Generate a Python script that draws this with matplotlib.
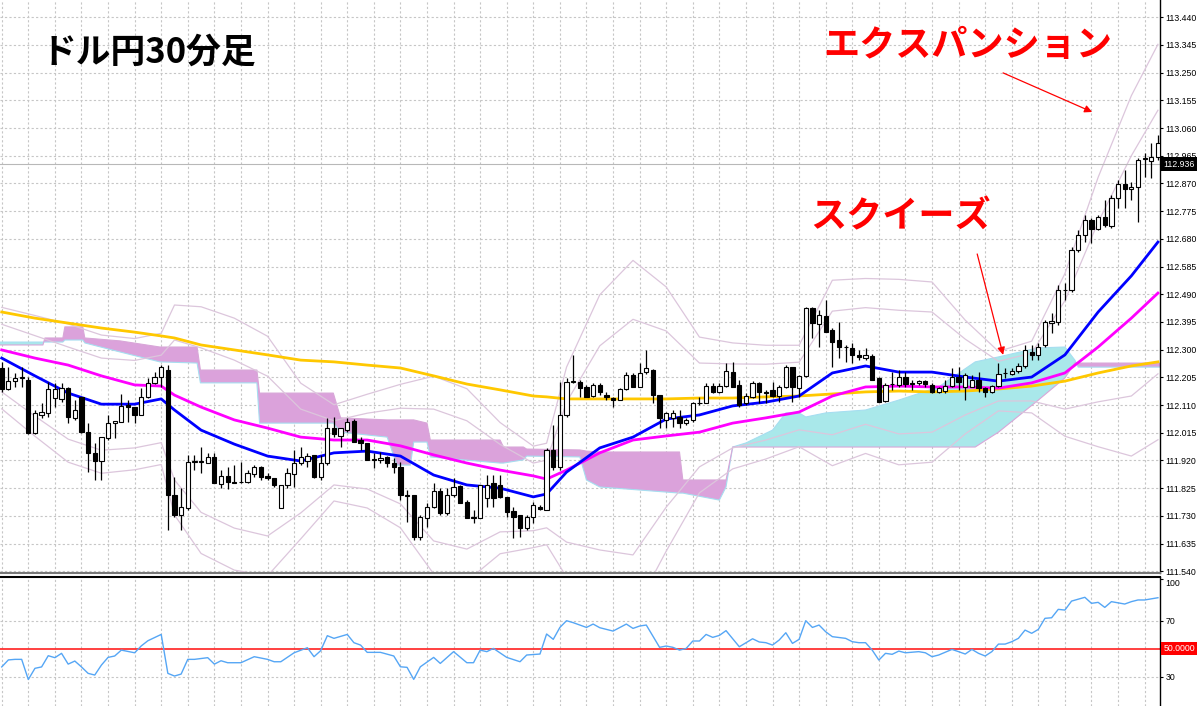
import matplotlib
matplotlib.use('Agg')
import matplotlib.pyplot as plt
import numpy as np
from matplotlib.transforms import blended_transform_factory

plt.rcParams['font.family'] = ['Noto Sans CJK JP', 'DejaVu Sans']

# ---- candles (USD/JPY 30 min) ----
opens = [
    112.237, 112.165, 112.192, 112.203, 112.196, 112.014, 112.076, 112.083, 112.134, 112.131,
    112.168, 112.066, 112.138, 112.017, 111.946, 111.918, 111.997, 112.048, 112.052, 112.110,
    112.103, 112.076, 112.138, 112.186, 112.206, 112.230, 111.801, 111.733, 111.757, 111.915,
    111.915, 111.911, 111.932, 111.839, 111.867, 111.846, 111.847, 111.846, 111.874, 111.898,
    111.867, 111.860, 111.757, 111.836, 111.874, 111.911, 111.918, 111.939, 111.863, 111.911,
    112.031, 112.004, 112.024, 112.055, 111.990, 111.980, 111.925, 111.922, 111.932, 111.911,
    111.898, 111.801, 111.801, 111.657, 111.723, 111.760, 111.815, 111.740, 111.801, 111.832,
    111.778, 111.726, 111.723, 111.791, 111.843, 111.836, 111.795, 111.747, 111.733, 111.688,
    111.726, 111.760, 111.750, 111.956, 111.898, 112.076, 112.189, 112.189, 112.172, 112.141,
    112.179, 112.144, 112.134, 112.127, 112.165, 112.213, 112.172, 112.223, 112.230, 112.144,
    112.059, 112.066, 112.069, 112.048, 112.059, 112.118, 112.117, 112.175, 112.155, 112.175,
    112.223, 112.179, 112.117, 112.138, 112.186, 112.155, 112.162, 112.141, 112.172, 112.240,
    112.168, 112.210, 112.443, 112.388, 112.415, 112.367, 112.333, 112.310, 112.306, 112.282,
    112.271, 112.278, 112.203, 112.124, 112.183, 112.179, 112.206, 112.186, 112.186, 112.192,
    112.179, 112.155, 112.158, 112.175, 112.206, 112.172, 112.172, 112.196, 112.168, 112.155,
    112.175, 112.221, 112.216, 112.227, 112.244, 112.292, 112.282, 112.316, 112.391, 112.395,
    112.506, 112.505, 112.642, 112.693, 112.745, 112.714, 112.755, 112.724, 112.820, 112.868,
    112.851, 112.858, 112.954, 112.947, 112.961,
]
highs = [
    112.258, 112.240, 112.220, 112.240, 112.206, 112.093, 112.117, 112.189, 112.186, 112.186,
    112.172, 112.127, 112.138, 112.048, 111.980, 112.000, 112.076, 112.055, 112.148, 112.127,
    112.103, 112.168, 112.203, 112.223, 112.247, 112.247, 111.863, 111.826, 111.939, 111.939,
    111.966, 111.946, 111.946, 111.887, 111.898, 111.904, 111.915, 111.887, 111.904, 111.901,
    111.877, 111.860, 111.836, 111.894, 111.956, 111.966, 111.946, 111.939, 111.939, 112.066,
    112.069, 112.031, 112.066, 112.062, 112.000, 111.980, 111.946, 111.949, 111.935, 111.928,
    111.915, 111.819, 111.801, 111.733, 111.774, 111.843, 111.826, 111.826, 111.860, 111.836,
    111.784, 111.750, 111.836, 111.870, 111.870, 111.870, 111.795, 111.760, 111.733, 111.733,
    111.778, 111.767, 111.963, 112.041, 112.189, 112.203, 112.282, 112.196, 112.179, 112.186,
    112.186, 112.155, 112.138, 112.168, 112.223, 112.220, 112.254, 112.299, 112.234, 112.144,
    112.086, 112.093, 112.093, 112.066, 112.120, 112.138, 112.186, 112.186, 112.186, 112.254,
    112.258, 112.196, 112.151, 112.192, 112.189, 112.162, 112.189, 112.179, 112.247, 112.240,
    112.213, 112.446, 112.446, 112.436, 112.470, 112.374, 112.395, 112.316, 112.323, 112.299,
    112.306, 112.285, 112.206, 112.186, 112.223, 112.230, 112.223, 112.196, 112.196, 112.196,
    112.186, 112.172, 112.196, 112.237, 112.240, 112.220, 112.213, 112.223, 112.172, 112.179,
    112.254, 112.237, 112.237, 112.254, 112.316, 112.316, 112.323, 112.402, 112.426, 112.522,
    112.529, 112.652, 112.710, 112.762, 112.751, 112.762, 112.813, 112.830, 112.882, 112.916,
    112.875, 112.957, 112.974, 113.009, 113.036,
]
lows = [
    112.155, 112.162, 112.172, 112.172, 112.011, 112.011, 112.066, 112.069, 112.103, 112.120,
    112.048, 112.059, 112.014, 111.880, 111.853, 111.853, 111.990, 111.997, 112.052, 112.052,
    112.048, 112.076, 112.134, 112.182, 112.172, 111.681, 111.726, 111.681, 111.750, 111.887,
    111.877, 111.911, 111.843, 111.826, 111.822, 111.843, 111.843, 111.843, 111.863, 111.853,
    111.853, 111.829, 111.757, 111.826, 111.829, 111.904, 111.898, 111.860, 111.853, 111.904,
    112.000, 111.966, 112.017, 111.983, 111.956, 111.922, 111.894, 111.911, 111.898, 111.877,
    111.784, 111.709, 111.647, 111.647, 111.692, 111.757, 111.733, 111.733, 111.795, 111.774,
    111.723, 111.705, 111.723, 111.760, 111.760, 111.791, 111.726, 111.654, 111.657, 111.681,
    111.705, 111.750, 111.750, 111.887, 111.887, 112.069, 112.186, 112.138, 112.138, 112.138,
    112.144, 112.127, 112.103, 112.127, 112.162, 112.172, 112.172, 112.216, 112.117, 112.031,
    112.031, 112.035, 112.031, 112.041, 112.052, 112.110, 112.117, 112.151, 112.151, 112.172,
    112.172, 112.103, 112.110, 112.134, 112.117, 112.117, 112.138, 112.120, 112.168, 112.120,
    112.138, 112.206, 112.340, 112.309, 112.360, 112.240, 112.271, 112.258, 112.254, 112.264,
    112.264, 112.196, 112.120, 112.120, 112.162, 112.172, 112.172, 112.162, 112.179, 112.172,
    112.151, 112.151, 112.151, 112.172, 112.162, 112.127, 112.172, 112.155, 112.138, 112.151,
    112.172, 112.203, 112.213, 112.220, 112.237, 112.264, 112.264, 112.309, 112.357, 112.385,
    112.470, 112.498, 112.635, 112.669, 112.666, 112.710, 112.721, 112.717, 112.786, 112.786,
    112.813, 112.738, 112.892, 112.889, 112.950,
]
closes = [
    112.165, 112.192, 112.203, 112.206, 112.014, 112.083, 112.086, 112.165, 112.165, 112.168,
    112.069, 112.093, 112.017, 111.946, 111.918, 112.000, 112.048, 112.055, 112.107, 112.103,
    112.076, 112.138, 112.186, 112.206, 112.240, 111.801, 111.733, 111.760, 111.915, 111.918,
    111.918, 111.932, 111.843, 111.867, 111.846, 111.844, 111.845, 111.877, 111.898, 111.863,
    111.860, 111.836, 111.836, 111.877, 111.911, 111.932, 111.935, 111.863, 111.911, 112.031,
    112.011, 112.031, 112.052, 111.983, 111.980, 111.922, 111.922, 111.928, 111.911, 111.898,
    111.801, 111.799, 111.657, 111.726, 111.760, 111.815, 111.740, 111.801, 111.829, 111.774,
    111.723, 111.723, 111.836, 111.836, 111.791, 111.795, 111.743, 111.726, 111.688, 111.726,
    111.767, 111.753, 111.956, 111.898, 112.076, 112.189, 112.192, 112.168, 112.138, 112.179,
    112.155, 112.138, 112.127, 112.165, 112.213, 112.172, 112.220, 112.237, 112.144, 112.066,
    112.083, 112.083, 112.048, 112.059, 112.117, 112.116, 112.175, 112.155, 112.175, 112.227,
    112.172, 112.110, 112.141, 112.186, 112.155, 112.151, 112.141, 112.172, 112.240, 112.172,
    112.210, 112.443, 112.391, 112.419, 112.360, 112.326, 112.309, 112.308, 112.282, 112.275,
    112.282, 112.196, 112.120, 112.179, 112.181, 112.206, 112.182, 112.182, 112.192, 112.182,
    112.155, 112.168, 112.175, 112.206, 112.189, 112.213, 112.196, 112.168, 112.155, 112.175,
    112.216, 112.219, 112.227, 112.244, 112.299, 112.282, 112.309, 112.395, 112.398, 112.505,
    112.504, 112.642, 112.693, 112.745, 112.714, 112.755, 112.727, 112.820, 112.868, 112.851,
    112.858, 112.950, 112.957, 112.961, 113.009,
]

# ---- moving averages and bollinger deviation, read at these bars ----
ma_idx = [0, 5, 10, 15, 20, 24, 26, 30, 35, 40, 45, 50, 55, 60, 65, 70, 75, 80, 82, 85,
          90, 95, 100, 105, 110, 115, 120, 125, 130, 135, 140, 145, 150, 155, 160, 165, 170, 174]
ma_blue = [112.271, 112.210, 112.151, 112.113, 112.113, 112.131, 112.093, 112.024, 111.976, 111.935,
           111.918, 111.946, 111.952, 111.935, 111.870, 111.836, 111.825, 111.795, 111.805, 111.880,
           111.963, 112.000, 112.062, 112.076, 112.107, 112.120, 112.141, 112.220, 112.244, 112.223,
           112.223, 112.206, 112.192, 112.206, 112.282, 112.429, 112.553, 112.669]
ma_magenta = [112.299, 112.271, 112.247, 112.210, 112.179, 112.175, 112.144, 112.103, 112.059, 112.031,
              112.000, 111.990, 111.990, 111.970, 111.939, 111.911, 111.887, 111.867, 111.856, 111.887,
              111.946, 111.990, 112.004, 112.017, 112.048, 112.066, 112.086, 112.141, 112.172, 112.175,
              112.172, 112.172, 112.168, 112.186, 112.220, 112.309, 112.408, 112.494]
ma_yellow = [112.429, 112.408, 112.391, 112.374, 112.360, 112.347, 112.340, 112.316, 112.299, 112.282,
             112.264, 112.258, 112.247, 112.237, 112.210, 112.182, 112.162, 112.141, 112.138, 112.131,
             112.131, 112.131, 112.131, 112.134, 112.134, 112.138, 112.141, 112.148, 112.155, 112.158,
             112.155, 112.158, 112.165, 112.175, 112.192, 112.220, 112.244, 112.258]
bb_dev = [0.058, 0.069, 0.079, 0.079, 0.075, 0.075, 0.120, 0.141, 0.144, 0.137,
          0.089, 0.055, 0.065, 0.082, 0.113, 0.110, 0.075, 0.058, 0.058, 0.120,
          0.175, 0.202, 0.151, 0.089, 0.072, 0.065, 0.058, 0.106, 0.100, 0.106,
          0.103, 0.065, 0.034, 0.041, 0.093, 0.154, 0.206, 0.226]

# ---- ichimoku cloud ----
cloud_idx = [-0.3, 6.2, 6.5, 9.2, 9.5, 12.2, 12.5, 17.8, 23.8, 29.4, 29.9, 38.4, 38.8, 49.9, 51, 58,
             59.5, 61.5, 62, 64, 64.5, 75, 75.5, 78.5, 79, 87, 88, 90, 102, 102.5, 108, 109, 110,
             112, 116, 118, 120, 121, 124, 130, 135, 141, 146.5, 150, 156, 160, 161.5, 162, 174.4]
span_a = [112.326, 112.326, 112.326, 112.326, 112.333, 112.333, 112.323, 112.292, 112.258, 112.254,
          112.186, 112.186, 112.048, 112.048, 112.017, 112.000, 111.904, 111.904, 111.983, 111.983,
          111.932, 111.911, 111.911, 111.922, 111.935, 111.932, 111.853, 111.829, 111.808, 111.808,
          111.784, 111.829, 111.966, 111.980, 112.024, 112.083, 112.083, 112.069, 112.083, 112.093,
          112.127, 112.172, 112.258, 112.275, 112.306, 112.309, 112.264, 112.240, 112.240]
span_b = [112.316, 112.316, 112.340, 112.340, 112.378, 112.378, 112.340, 112.330, 112.309, 112.309,
          112.230, 112.230, 112.151, 112.151, 112.066, 112.059, 112.059, 112.059, 112.059, 112.048,
          111.990, 111.990, 111.966, 111.966, 111.959, 111.956, 111.952, 111.949, 111.949, 111.853,
          111.853, 111.853, 111.966, 111.966, 111.966, 111.966, 111.966, 111.966, 111.966, 111.966,
          111.966, 111.966, 111.966, 112.017, 112.127, 112.203, 112.254, 112.254, 112.254]

# ---- RSI ----
rsi_idx = [0, 1, 2, 3, 4, 5, 6, 7, 8, 9, 10, 11, 12, 13, 14, 15, 16, 17, 18, 20,
           21, 22, 24, 25, 26, 27, 28, 29, 31, 32, 33, 34, 36, 38, 40, 41, 42, 44, 46, 47,
           48, 49, 50, 52, 53, 54, 55, 57, 59, 60, 61, 62, 63, 65, 66, 68, 70, 71, 72, 73,
           74, 76, 78, 79, 81, 82, 83, 84, 85, 86, 88, 89, 90, 92, 94, 95, 96, 97, 99, 100,
           101, 102, 103, 104, 105, 106, 107, 108, 109, 111, 113, 114, 115, 116, 117, 118, 119, 120,
           121, 122, 123, 124, 125, 127, 128, 129, 130, 131, 132, 133, 134, 135, 136, 138, 139, 140,
           141, 143, 144, 145, 146, 147, 148, 149, 150, 151, 152, 153, 154, 155, 156, 157, 158, 159,
           160, 161, 163, 164, 165, 166, 167, 169, 170, 171, 172, 174]
rsi_val = [37, 42, 42.4, 42.4, 28, 36, 37, 45, 43.6, 46.7, 39, 41.2, 37, 32.4, 31.2, 38.3, 43.8, 44.8, 49, 47.1,
           52, 55.7, 60.2, 32.4, 30.5, 31.9, 42.4, 42.4, 43.6, 39, 41.4, 40, 40, 44.3, 42.4, 40.7, 40.7, 47.1, 50.7, 44.3,
           48.6, 59.3, 57.4, 60.2, 54.3, 52.6, 47.4, 47.4, 44.8, 37.1, 36.7, 28.1, 37.1, 43.8, 39.5, 47.9, 40, 40, 49, 47.9,
           50.2, 43.8, 40.7, 45.5, 46.2, 60.5, 56.7, 65.2, 70, 68.6, 65.2, 67.6, 65, 62.6, 67.6, 64.5, 66.2, 66.9, 51, 51.9,
           51, 49, 50.2, 55.5, 55.5, 60.2, 58.1, 59.5, 62.9, 51.4, 57.1, 54.8, 54.3, 52.6, 56.2, 61.4, 53.8, 56.7,
           70, 65.2, 66.9, 62.1, 58.6, 57.4, 55, 54.3, 54.3, 49, 41.9, 46.7, 46, 48.3, 47.1, 47.9, 47.1, 44.3,
           45.5, 49.5, 47.9, 46.2, 49.5, 46.7, 44.8, 47.9, 53.3, 53.3, 55, 57.4, 63.3, 61, 63.8, 71.7, 72.1, 78.1,
           77.6, 84, 86.7, 82.4, 83.1, 79.5, 83.6, 81.9, 83.6, 84.8, 84.8, 86.4]

price_ticks = [111.540, 111.635, 111.730, 111.825, 111.920, 112.015, 112.110, 112.205, 112.300, 112.395,
               112.490, 112.585, 112.680, 112.775, 112.870, 112.965, 113.060, 113.155, 113.250, 113.345, 113.440]
rsi_ticks = [30, 70, 100]
last_price = 112.936
rsi_level = 50

W, H = 1197, 706
fig = plt.figure(figsize=(W / 100, H / 100), dpi=100)
ax = fig.add_axes([0, 1 - 573 / H, 1160 / W, 573 / H])
ax2 = fig.add_axes([0, 0, 1160 / W, 129 / H])

xlim = (-0.26, 174.31)
grid_style = dict(color='#c6c6c6', lw=0.8, ls=(0, (2, 2)))
label_size = 6.3

### main chart ###
o = np.array(opens); h = np.array(highs); l = np.array(lows); c = np.array(closes)
x = np.arange(len(o))
up = c >= o
body_lo = np.minimum(o, c)
body_h = np.maximum(np.abs(c - o), 0.0012)

# cloud
cx = np.array(cloud_idx); sa = np.array(span_a); sb = np.array(span_b)
ax.fill_between(cx, sa, sb, where=sa >= sb, interpolate=True, color='#a9e8ea', lw=0, zorder=1)
ax.fill_between(cx, sa, sb, where=sa < sb, interpolate=True, color='#dba2db', lw=0, zorder=1)
ax.plot(cx, sa, color='#a6def0', lw=0.8, zorder=1.5)
ax.plot(cx, sb, color='#d8a6d8', lw=0.8, zorder=1.5)

# bollinger bands
mid = np.array(ma_blue); dev = np.array(bb_dev)
for k in (2, 3):
    ax.plot(ma_idx, mid + k * dev, color='#dcc6dc', lw=0.9, zorder=2)
    ax.plot(ma_idx, mid - k * dev, color='#dcc6dc', lw=0.9, zorder=2)

ax.axhline(last_price, color='#b8b8b8', lw=0.8, zorder=2)

ax.plot(ma_idx, ma_yellow, color='#ffc800', lw=2, zorder=3)
ax.plot(ma_idx, ma_magenta, color='#ff00ff', lw=2, zorder=3)
ax.plot(ma_idx, ma_blue, color='#0000ff', lw=2, zorder=3)

ax.vlines(x, l, h, color='black', lw=0.9, zorder=5)
ax.bar(x[up], body_h[up], 0.64, bottom=body_lo[up], color='white', edgecolor='black', lw=0.8, zorder=6)
ax.bar(x[~up], body_h[~up], 0.64, bottom=body_lo[~up], color='black', edgecolor='black', lw=0.8, zorder=6)

ax.set_xlim(*xlim)
ax.set_ylim(111.534, 113.499)
ax.set_xticks(np.arange(0, 175, 4))
ax.set_yticks(price_ticks)
ax.yaxis.set_major_formatter(matplotlib.ticker.FormatStrFormatter('%.3f'))
ax.yaxis.tick_right()
ax.grid(True, **grid_style)
ax.set_axisbelow(True)
ax.tick_params(axis='x', length=0, labelbottom=False)
ax.tick_params(axis='y', length=2.5, width=0.8, pad=1.5, labelsize=label_size,
               labelfontfamily='Liberation Sans')
for s in ('left', 'top'):
    ax.spines[s].set_visible(False)
ax.spines['right'].set_linewidth(1)
ax.spines['bottom'].set_color('#777777')
ax.spines['bottom'].set_linewidth(1.5)

trans = blended_transform_factory(ax.transAxes, ax.transData)
ax.text(1.003, last_price, '112.936', transform=trans, va='center', ha='left', fontsize=label_size,
        color='white', family='Liberation Sans',
        bbox=dict(boxstyle='square,pad=0.25', fc='black', ec='none'), zorder=10)

# titles and notes
ax.text(0.036, 0.909, 'ドル円30分足', transform=ax.transAxes, fontsize=25, fontweight='bold',
        ha='left', va='center', color='black')
ax.text(0.834, 0.921, 'エクスパンション', transform=ax.transAxes, fontsize=26, fontweight='bold',
        ha='center', va='center', color='#ff0000')
ax.text(0.776, 0.621, 'スクイーズ', transform=ax.transAxes, fontsize=26, fontweight='bold',
        ha='center', va='center', color='#ff0000')
arrow = dict(arrowstyle='-|>', color='#ff0000', lw=0.9, mutation_scale=11, shrinkA=0, shrinkB=0)
ax.annotate('', xy=(164.1, 113.115), xytext=(150.7, 113.249), arrowprops=arrow)
ax.annotate('', xy=(150.7, 112.282), xytext=(146.8, 112.628), arrowprops=arrow)

### RSI ###
ax2.plot(rsi_idx, rsi_val, color='#55a6f5', lw=1, zorder=3)
ax2.axhline(rsi_level, color='#ff2020', lw=1.2, zorder=2)
for lv in (30, 70):
    ax2.axhline(lv, **grid_style, zorder=1)
ax2.set_xlim(*xlim)
ax2.set_ylim(9.1, 101.2)
ax2.set_xticks(np.arange(0, 175, 4))
ax2.grid(True, axis='x', **grid_style)
ax2.set_axisbelow(True)
ax2.yaxis.tick_right()
ax2.set_yticks(rsi_ticks)
ax2.set_yticklabels([str(t) for t in rsi_ticks])
ax2.tick_params(axis='x', length=0, labelbottom=False)
ax2.tick_params(axis='y', length=2.5, width=0.8, pad=1.5, labelsize=label_size,
                labelfontfamily='Liberation Sans')
for lab in ax2.get_yticklabels():
    if lab.get_text() == '100':
        lab.set_verticalalignment('top')
for s in ('left', 'bottom'):
    ax2.spines[s].set_visible(False)
ax2.spines['top'].set_linewidth(1.5)
ax2.spines['right'].set_linewidth(1)
trans2 = blended_transform_factory(ax2.transAxes, ax2.transData)
ax2.text(1.003, rsi_level, '50.0000', transform=trans2, va='center', ha='left', fontsize=label_size,
         color='white', family='Liberation Sans',
         bbox=dict(boxstyle='square,pad=0.25', fc='#ff0000', ec='none'), zorder=10)

fig.savefig('out.png', dpi=100)
